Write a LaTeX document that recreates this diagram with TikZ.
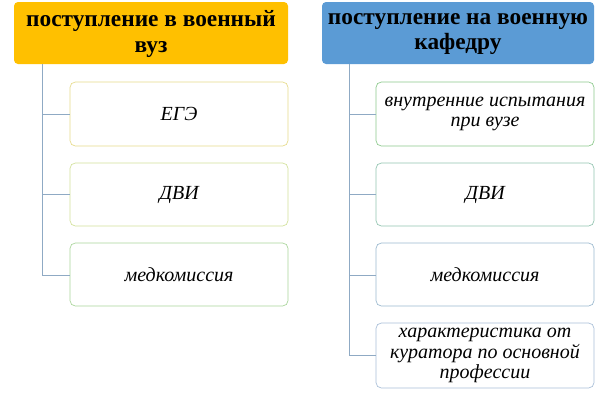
\documentclass[tikz,border=0pt]{standalone}
\usepackage{fontspec}
\setmainfont{Liberation Serif}
\begin{document}
\begin{tikzpicture}[x=0.75pt,y=-0.75pt,
  hdr/.style={rounded corners=3pt,font=\bfseries\fontsize{17.5}{19}\selectfont,align=center},
  kid/.style={draw,rounded corners=4pt,fill=white,line width=0.5pt,font=\itshape\fontsize{15}{15.5}\selectfont,align=center},
  tie/.style={draw=lineblue,line width=0.6pt}]
\definecolor{hdrorange}{HTML}{FFC000}
\definecolor{hdrblue}{HTML}{5B9BD5}
\definecolor{lineblue}{HTML}{8FAAC4}
\definecolor{b1}{HTML}{E6DB8A}
\definecolor{b2}{HTML}{D2E19A}
\definecolor{b3}{HTML}{A9D59A}
\definecolor{b4}{HTML}{8CC98C}
\definecolor{b5}{HTML}{92C4B0}
\definecolor{b6}{HTML}{9BB9CF}
\definecolor{b7}{HTML}{A9BFD8}
\useasboundingbox (0,0) rectangle (609,400);
% headers
\fill[hdrorange,rounded corners=3pt] (14,2) rectangle (288,64);
\node[hdr] (h1) at (151,34) {поступление в военный\\вуз};
\fill[hdrblue,rounded corners=3pt] (322,2) rectangle (594,64);
\node[hdr] (h2) at (458,34) {поступление на военную\\кафедру};
% left children
\draw[kid,draw=b1] (70,82) rectangle (288,146) node[midway,draw=none] (l1) {ЕГЭ};
\draw[kid,draw=b2] (70,163) rectangle (288,226) node[midway,draw=none] (l2) {ДВИ};
\draw[kid,draw=b3] (70,243) rectangle (288,306) node[midway,draw=none] (l3) {медкомиссия};
% right children
\draw[kid,draw=b4] (376,82) rectangle (594,146) node[midway,draw=none] (r1) {внутренние испытания\\при вузе};
\draw[kid,draw=b5] (376,163) rectangle (594,226) node[midway,draw=none] (r2) {ДВИ};
\draw[kid,draw=b6] (376,243) rectangle (594,306) node[midway,draw=none] (r3) {медкомиссия};
\draw[kid,draw=b7] (376,323) rectangle (594,388) node[midway,draw=none] (r4) {характеристика от\\куратора по основной\\профессии};
% connectors
\coordinate (lt) at (42,64);
\coordinate (rt) at (349,64);
\draw[tie] (lt) |- (70,275) (42,114) -- (70,114) (42,194) -- (70,194);
\draw[tie] (rt) |- (376,355) (349,114) -- (376,114) (349,194) -- (376,194) (349,275) -- (376,275);
\end{tikzpicture}
\end{document}
